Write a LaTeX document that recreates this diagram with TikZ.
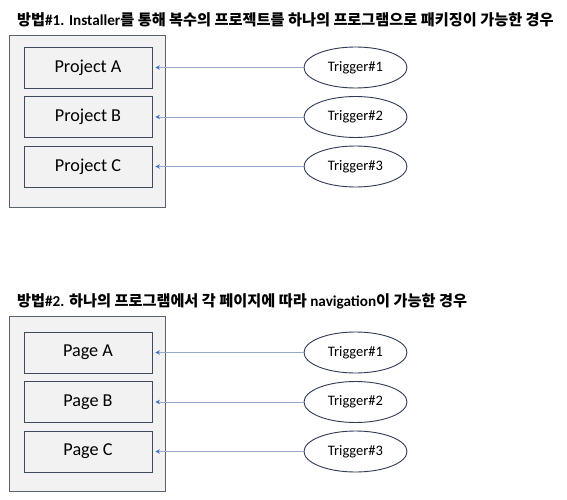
\documentclass[tikz,border=0pt]{standalone}
\usepackage{fontspec}
\setmainfont{Carlito}
\newfontfamily\krfont{Noto Sans CJK KR}
\usepackage{xcolor}
\usepackage{tikz}
\usetikzlibrary{arrows.meta,shapes.geometric,positioning}

\newcommand{\en}[1]{{\rmfamily\bfseries #1}}

\begin{document}
\begin{tikzpicture}[x=1pt,y=-1pt]
% Two panels: a grey group box holding three blocks, each fed by a
% trigger ellipse on the right. Coordinates are in image pixels.
\definecolor{groupfill}{RGB}{242, 242, 242}
\definecolor{groupline}{RGB}{90, 98, 112}
\definecolor{blockline}{RGB}{62, 74, 94}
\definecolor{trigline}{RGB}{47, 59, 87}
\definecolor{wire}{RGB}{150, 170, 205}
\definecolor{tip}{RGB}{68, 114, 196}
\tikzset{
  group/.style={draw=groupline, fill=groupfill, line width=0.9pt,
    minimum width=156, inner sep=0},
  block/.style={draw=blockline, fill=groupfill, line width=0.9pt,
    minimum width=128, minimum height=41, inner sep=0,
    font=\fontsize{18.2}{21}\selectfont},
  trig/.style={ellipse, draw=trigline, fill=white, line width=0.9pt,
    minimum width=103, minimum height=41, inner sep=0,
    font=\fontsize{14.5}{17}\selectfont},
  feed/.style={draw=wire, line width=0.8pt,
    -{Stealth[length=4.5pt, width=4.5pt, color=tip]}, shorten >=3pt},
  heading/.style={anchor=west, inner sep=0,
    font=\krfont\bfseries\fontsize{15.2}{18}\selectfont},
}
\useasboundingbox (0,0) rectangle (567,500);

% panel 1
\node[heading] (title1) at (17,20)
  {방법\en{\#1. Installer}를 통해 복수의 프로젝트를 하나의 프로그램으로 패키징이 가능한 경우};
\node[group, minimum height=172] (group1) at (87,121) {};
\foreach \n/\y in {A/67.5, B/117, C/166.5} {
  \node[block] (proj\n) at (88,\y) {Project \n};
}
\foreach \n/\k/\y in {A/1/67.5, B/2/117, C/3/166.5} {
  \node[trig] (trigP\n) at (355.5,\y) {Trigger\#\k};
  \draw[feed] (trigP\n) -- (proj\n);
}

% panel 2
\node[heading] (title2) at (17,301)
  {방법\en{\#2.} 하나의 프로그램에서 각 페이지에 따라 \en{navigation}이 가능한 경우};
\node[group, minimum height=175] (group2) at (87,403.5) {};
\foreach \n/\y in {A/352.5, B/402, C/451.5} {
  \node[block] (page\n) at (88,\y) {Page \n};
}
\foreach \n/\k/\y in {A/1/352.5, B/2/402, C/3/451.5} {
  \node[trig] (trigQ\n) at (355.5,\y) {Trigger\#\k};
  \draw[feed] (trigQ\n) -- (page\n);
}
\end{tikzpicture}
\end{document}
